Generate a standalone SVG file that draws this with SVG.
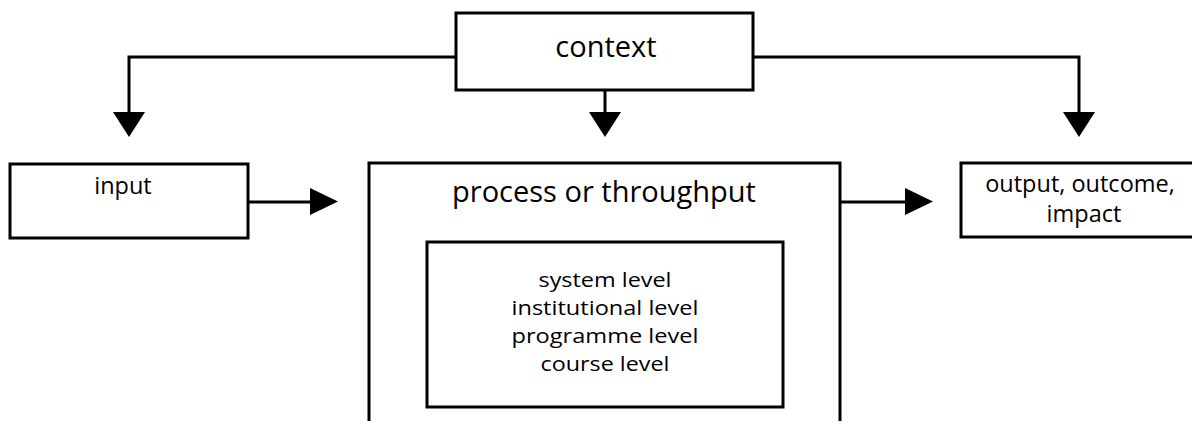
<svg xmlns="http://www.w3.org/2000/svg" width="1192" height="421" viewBox="0 0 1192 421">
<style>
.box{fill:#fff;stroke:#000;stroke-width:3}
.line{fill:none;stroke:#000;stroke-width:3}
.head{fill:#000;stroke:none}
text{font-family:"Open Sans","Noto Sans","Liberation Sans",sans-serif;fill:#000;text-anchor:middle}
.big{font-size:29px}
.small{font-size:23.5px}
.lvl{font-size:20.5px}
</style>
<rect width="1192" height="421" fill="#fff"/>
<g id="connectors">
<polyline class="line" points="456,57 129,57 129,113"/>
<polygon class="head" points="113,112 145,112 129,137"/>
<line class="line" x1="605" y1="90" x2="605" y2="113"/>
<polygon class="head" points="589,112 621,112 605,137"/>
<polyline class="line" points="753,57 1079,57 1079,113"/>
<polygon class="head" points="1063,112 1095,112 1079,137"/>
<line class="line" x1="248" y1="202" x2="311" y2="202"/>
<polygon class="head" points="310,188 310,215 338,201.5"/>
<line class="line" x1="840" y1="202" x2="906" y2="202"/>
<polygon class="head" points="905,188 905,215 933,201.5"/>
</g>
<g id="context">
<rect class="box" x="456" y="13" width="297" height="77"/>
<text class="big" x="606" y="57">context</text>
</g>
<g id="input">
<rect class="box" x="10" y="164" width="238" height="74"/>
<text class="small" x="123" y="194">input</text>
</g>
<g id="process">
<path class="line" d="M369,425 V163 H840 V425"/>
<text class="big" x="604" y="202">process or throughput</text>
</g>
<g id="levels">
<rect class="box" x="427" y="242" width="356" height="165"/>
<text class="lvl" x="605" y="287" textLength="133" lengthAdjust="spacingAndGlyphs">system level</text>
<text class="lvl" x="605" y="315" textLength="187" lengthAdjust="spacingAndGlyphs">institutional level</text>
<text class="lvl" x="605" y="343" textLength="187" lengthAdjust="spacingAndGlyphs">programme level</text>
<text class="lvl" x="605" y="371" textLength="129" lengthAdjust="spacingAndGlyphs">course level</text>
</g>
<g id="output">
<rect class="box" x="961" y="163" width="250" height="74"/>
<text class="small" x="1080" y="192">output, outcome,</text>
<text class="small" x="1084" y="222">impact</text>
</g>
</svg>
